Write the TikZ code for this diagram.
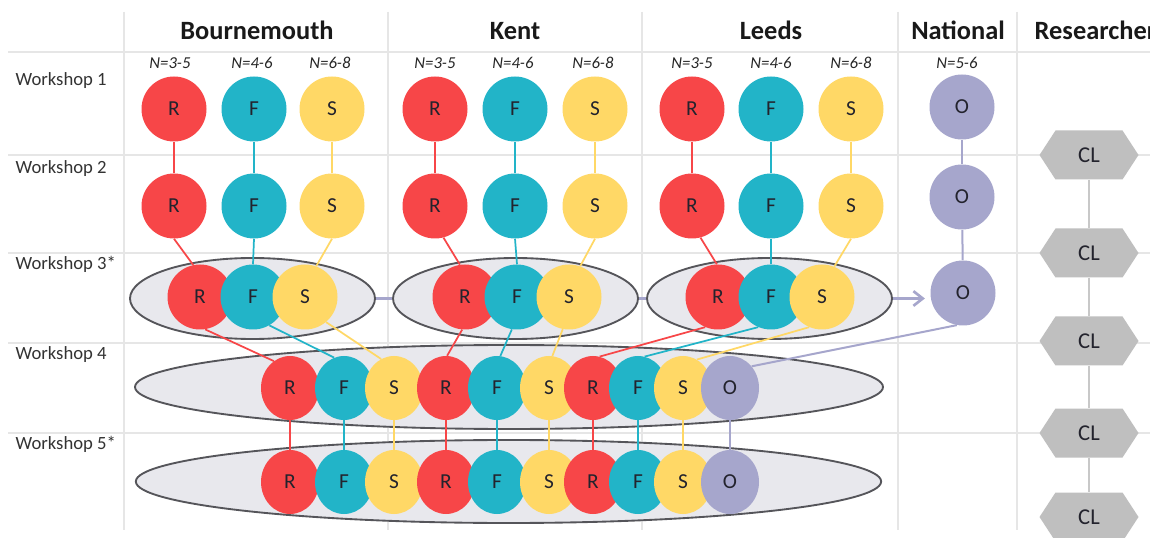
\documentclass[tikz,border=0pt]{standalone}
\usepackage{fontspec}
\setmainfont{Carlito}
\usetikzlibrary{shapes.geometric,arrows.meta}
\definecolor{cR}{RGB}{247,70,72}
\definecolor{cF}{RGB}{34,180,200}
\definecolor{cS}{RGB}{255,216,102}
\definecolor{cO}{RGB}{166,166,204}
\definecolor{cEll}{RGB}{232,232,237}
\definecolor{cEllB}{RGB}{85,85,90}
\definecolor{cGrid}{RGB}{230,230,230}
\definecolor{cHex}{RGB}{191,191,191}
\definecolor{cHexL}{RGB}{200,200,200}
\definecolor{cTxt}{RGB}{35,35,45}
\pgfdeclarelayer{gridlayer}
\pgfdeclarelayer{elllayer}
\pgfdeclarelayer{linklayer}
\pgfsetlayers{gridlayer,elllayer,linklayer,main}
\begin{document}
\begin{tikzpicture}[x=0.75pt,y=-0.75pt,
  disc/.style={circle,minimum size=48.75pt,inner sep=0pt,font=\fontsize{16}{18}\selectfont,text=cTxt},
  ovl/.style={ellipse,minimum width=43.5pt,minimum height=48pt,inner sep=0pt,font=\fontsize{16}{18}\selectfont,text=cTxt},
  rr/.style={fill=cR}, ff/.style={fill=cF}, ss/.style={fill=cS}, oo/.style={fill=cO},
  bigell/.style={ellipse,draw=cEllB,line width=1.4pt,fill=cEll,inner sep=0pt},
  lnR/.style={draw=cR,line width=1.3pt},
  lnF/.style={draw=cF,line width=1.3pt},
  lnS/.style={draw=cS,line width=1.3pt},
  lnO/.style={draw=cO,line width=1.5pt},
  lnCL/.style={draw=cHexL,line width=1.3pt},
  ellink/.style={draw=cO,line width=2pt},
  gridln/.style={draw=cGrid,line width=1.1pt},
  head/.style={anchor=base,font=\bfseries\fontsize{19.8}{22}\selectfont,text=black!90},
  rowlab/.style={anchor=base west,font=\fontsize{14}{16}\selectfont,text=black!80},
  nlab/.style={anchor=base,font=\itshape\fontsize{12.5}{14}\selectfont,text=black!85},
  hexa/.style={minimum width=74.25pt,minimum height=36.75pt,inner sep=0pt,
     font=\fontsize{17}{19}\selectfont,text=cTxt,
     path picture={\fill[cHex] (path picture bounding box.west)
       -- ([xshift=12pt]path picture bounding box.north west)
       -- ([xshift=-12pt]path picture bounding box.north east)
       -- (path picture bounding box.east)
       -- ([xshift=-12pt]path picture bounding box.south east)
       -- ([xshift=12pt]path picture bounding box.south west) -- cycle;}},
]
\useasboundingbox (0,0) rectangle (1150,538);
\clip (0,0) rectangle (1150,538);

% grid
\begin{pgfonlayer}{gridlayer}
\fill[white] (0,0) rectangle (1150,538);
\foreach \yy in {52,155,253,343,433} \draw[gridln] (8,\yy) -- (1150,\yy);
\foreach \xx in {124,388,642,898,1017} \draw[gridln] (\xx,12) -- (\xx,530);
\end{pgfonlayer}

% headers
\node[head] (hB) at (257,40) {Bournemouth};
\node[head] (hK) at (515,40) {Kent};
\node[head] (hL) at (771,40) {Leeds};
\node[head] (hN) at (958,40) {National};
\node[head,anchor=base west] (hR) at (1030,40) {Researcher};

% row labels
\node[rowlab] (w1) at (11,86) {Workshop 1};
\node[rowlab] (w2) at (11,174) {Workshop 2};
\node[rowlab] (w3) at (11,270) {Workshop 3*};
\node[rowlab] (w4) at (11,360) {Workshop 4};
\node[rowlab] (w5) at (11,449) {Workshop 5*};

% N labels
\node[nlab] (nb1) at (170,69) {N=3-5};
\node[nlab] (nb2) at (252,69) {N=4-6};
\node[nlab] (nb3) at (330,69) {N=6-8};
\node[nlab] (nk1) at (435,69) {N=3-5};
\node[nlab] (nk2) at (513,69) {N=4-6};
\node[nlab] (nk3) at (593,69) {N=6-8};
\node[nlab] (nl1) at (692,69) {N=3-5};
\node[nlab] (nl2) at (771,69) {N=4-6};
\node[nlab] (nl3) at (851,69) {N=6-8};
\node[nlab] (nn1) at (957,69) {N=5-6};

% big ellipses
\begin{pgfonlayer}{elllayer}
\node[bigell,minimum width=183.75pt,minimum height=60.75pt] (E3B) at (252.5,298.5) {};
\node[bigell,minimum width=183.75pt,minimum height=60.75pt] (E3K) at (515.5,298.5) {};
\node[bigell,minimum width=183.75pt,minimum height=60.75pt] (E3L) at (769.5,298.5) {};
\node[bigell,minimum width=561pt,minimum height=63pt] (E4) at (509,387) {};
\node[bigell,minimum width=559pt,minimum height=62.25pt] (E5) at (508.5,481.5) {};
\end{pgfonlayer}

% workshop 1
\node[disc,rr] (B1R) at (174,109) {R};
\node[disc,ff] (B1F) at (254,109) {F};
\node[disc,ss] (B1S) at (332,109) {S};
\node[disc,rr] (K1R) at (435,109) {R};
\node[disc,ff] (K1F) at (515,109) {F};
\node[disc,ss] (K1S) at (595,109) {S};
\node[disc,rr] (L1R) at (692,109) {R};
\node[disc,ff] (L1F) at (771,109) {F};
\node[disc,ss] (L1S) at (851,109) {S};
\node[disc,oo] (N1O) at (962,107) {O};

% workshop 2
\node[disc,rr] (B2R) at (174,206) {R};
\node[disc,ff] (B2F) at (254,206) {F};
\node[disc,ss] (B2S) at (332,206) {S};
\node[disc,rr] (K2R) at (435,206) {R};
\node[disc,ff] (K2F) at (515,206) {F};
\node[disc,ss] (K2S) at (595,206) {S};
\node[disc,rr] (L2R) at (692,206) {R};
\node[disc,ff] (L2F) at (771,206) {F};
\node[disc,ss] (L2S) at (851,206) {S};
\node[disc,oo] (N2O) at (962,197) {O};

% workshop 3
\node[disc,rr] (B3R) at (200,297) {R};
\node[disc,ff] (B3F) at (253,297) {F};
\node[disc,ss] (B3S) at (305,297) {S};
\node[disc,rr] (K3R) at (465,297) {R};
\node[disc,ff] (K3F) at (517,297) {F};
\node[disc,ss] (K3S) at (569,297) {S};
\node[disc,rr] (L3R) at (718,297) {R};
\node[disc,ff] (L3F) at (771,297) {F};
\node[disc,ss] (L3S) at (822,297) {S};
\node[disc,oo] (N3O) at (963,293) {O};

% workshop 4
\node[ovl,rr] (D1) at (290,388) {R};
\node[ovl,ff] (D2) at (344,388) {F};
\node[ovl,ss] (D3) at (394,388) {S};
\node[ovl,rr] (D4) at (446,388) {R};
\node[ovl,ff] (D5) at (497,388) {F};
\node[ovl,ss] (D6) at (549,388) {S};
\node[ovl,rr] (D7) at (593,388) {R};
\node[ovl,ff] (D8) at (638,388) {F};
\node[ovl,ss] (D9) at (683,388) {S};
\node[ovl,oo] (D10) at (730,388) {O};

% workshop 5
\node[ovl,rr] (E1) at (290,482) {R};
\node[ovl,ff] (E2) at (344,482) {F};
\node[ovl,ss] (E3) at (394,482) {S};
\node[ovl,rr] (E4r) at (446,482) {R};
\node[ovl,ff] (E5f) at (497,482) {F};
\node[ovl,ss] (E6) at (549,482) {S};
\node[ovl,rr] (E7) at (593,482) {R};
\node[ovl,ff] (E8) at (638,482) {F};
\node[ovl,ss] (E9) at (683,482) {S};
\node[ovl,oo] (E10) at (730,482) {O};

% researcher
\node[hexa] (CL1) at (1089,155) {CL};
\node[hexa] (CL2) at (1089,253) {CL};
\node[hexa] (CL3) at (1089,341) {CL};
\node[hexa] (CL4) at (1089,433) {CL};
\node[hexa] (CL5) at (1089,517) {CL};

\begin{pgfonlayer}{linklayer}
% W1 -> W2
\draw[lnR] (B1R) -- (B2R); \draw[lnF] (B1F) -- (B2F); \draw[lnS] (B1S) -- (B2S);
\draw[lnR] (K1R) -- (K2R); \draw[lnF] (K1F) -- (K2F); \draw[lnS] (K1S) -- (K2S);
\draw[lnR] (L1R) -- (L2R); \draw[lnF] (L1F) -- (L2F); \draw[lnS] (L1S) -- (L2S);
\draw[lnO] (N1O) -- (N2O); \draw[lnO] (N2O) -- (N3O);
% W2 -> W3
\draw[lnR] (B2R.south) -- (B3R.102); \draw[lnF] (B2F.south) -- (B3F.north); \draw[lnS] (B2S.south) -- (B3S.70);
\draw[lnR] (K2R.285) -- (K3R.99); \draw[lnF] (K2F.south) -- (K3F.north); \draw[lnS] (K2S.south) -- (K3S.70);
\draw[lnR] (L2R.285) -- (L3R.92); \draw[lnF] (L2F.south) -- (L3F.north); \draw[lnS] (L2S.south) -- (L3S.68);
% W3 -> W4
\draw[lnR] (B3R.279) -- (D1.121); \draw[lnF] (B3F.300) -- (D2.108); \draw[lnS] (B3S.310) -- (D3.114);
\draw[lnR] (K3R.265) -- (D4.88); \draw[lnF] (K3F.261) -- (D5.84); \draw[lnS] (K3S.259) -- (D6.84);
\draw[lnR] (L3R.247) -- (D7.78); \draw[lnF] (L3F.247) -- (D8.78); \draw[lnS] (L3S.247) -- (D9.64);
\draw[lnO] (N3O.259) -- (D10.45);
% W4 -> W5
\draw[lnR] (D1) -- (E1); \draw[lnF] (D2) -- (E2); \draw[lnS] (D3) -- (E3);
\draw[lnR] (D4) -- (E4r); \draw[lnF] (D5) -- (E5f); \draw[lnS] (D6) -- (E6);
\draw[lnR] (D7) -- (E7); \draw[lnF] (D8) -- (E8); \draw[lnS] (D9) -- (E9);
\draw[lnO] (D10) -- (E10);
% ellipse links
\draw[ellink] (E3B.east) -- (E3K.west);
\draw[ellink] (E3K.east) -- (E3L.west);
\draw[ellink,-{Straight Barb[length=7pt,width=11pt,line width=2pt]},shorten >=4pt] (E3L.east) -- (E3L.east -| N3O.west);
% CL links
\draw[lnCL] (CL1) -- (CL2); \draw[lnCL] (CL2) -- (CL3);
\draw[lnCL] (CL3) -- (CL4); \draw[lnCL] (CL4) -- (CL5);
\end{pgfonlayer}
\end{tikzpicture}
\end{document}
